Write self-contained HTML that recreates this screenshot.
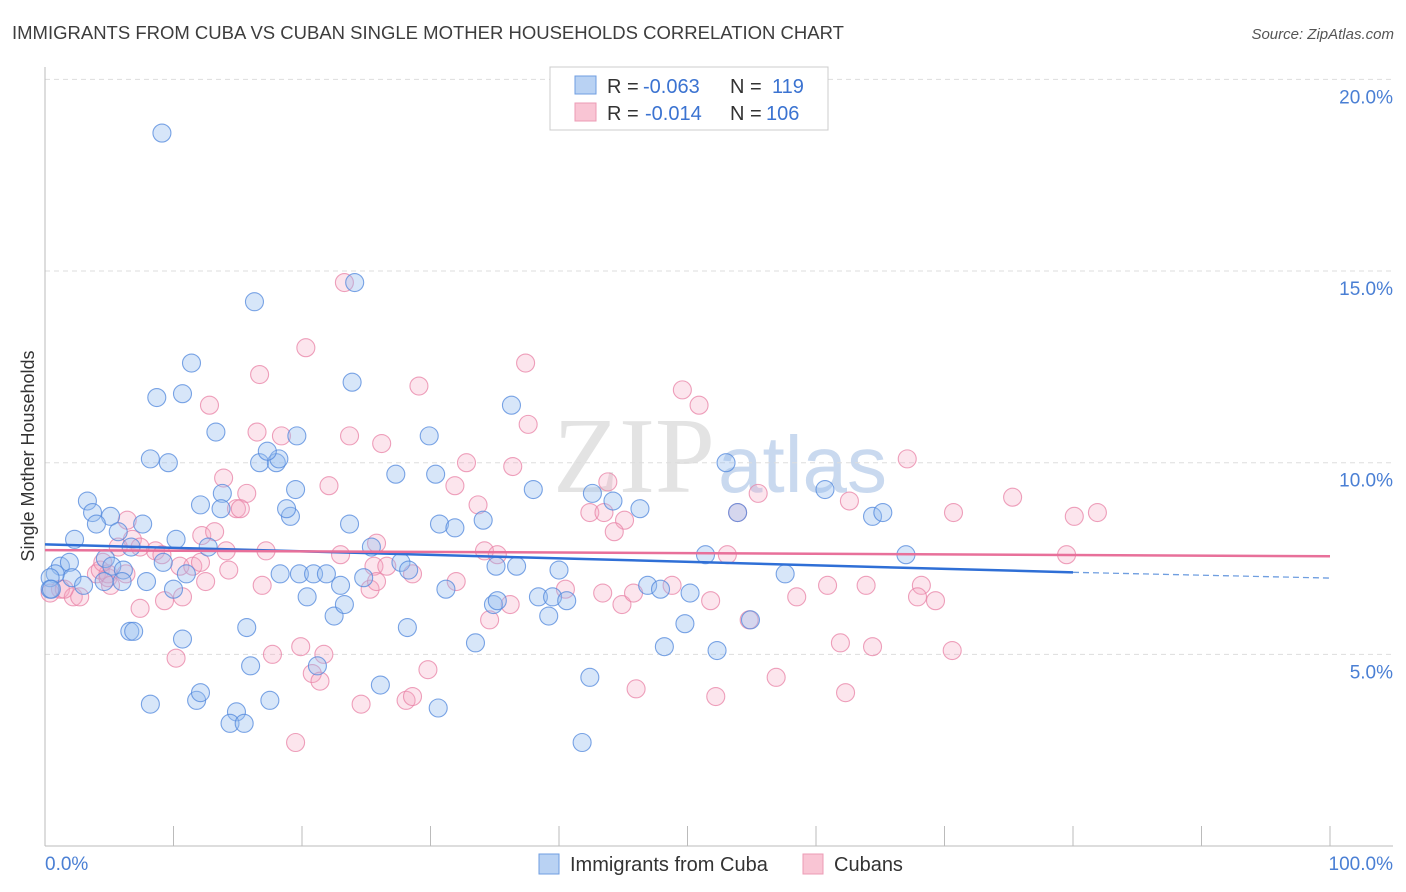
<!DOCTYPE html>
<html><head><meta charset="utf-8"><style>
body{margin:0;background:#fff;font-family:"Liberation Sans",sans-serif;}
svg{display:block}
</style></head><body>
<svg id="chart" width="1406" height="892" xmlns="http://www.w3.org/2000/svg" font-family="Liberation Sans, sans-serif">
<text x="12" y="39" font-size="18.5" fill="#3d3d3d">IMMIGRANTS FROM CUBA VS CUBAN SINGLE MOTHER HOUSEHOLDS CORRELATION CHART</text>
<text x="1394" y="39" font-size="15" fill="#555" font-style="italic" text-anchor="end">Source: ZipAtlas.com</text>
<g>
<text x="553" y="492" font-size="108" font-family="Liberation Serif, serif" fill="#e3e3e3">ZIP</text>
<text x="718" y="492" font-size="80" fill="#c9d9ef">atlas</text>
</g>
<g id="grid"></g>
<g id="axes"></g>
<g id="pts"></g>
<g id="trends"></g>
<text transform="translate(34,456) rotate(-90)" font-size="18" fill="#333" text-anchor="middle">Single Mother Households</text>
<g>
<rect x="550" y="67" width="278" height="63" fill="#fff" stroke="#ccc"/>
<rect x="575" y="76" width="21" height="18" fill="#b9d2f3" stroke="#6f9ee0"/>
<rect x="575" y="103" width="21" height="18" fill="#f9c5d4" stroke="#ec9bb5"/>
<text x="607" y="93" font-size="20" fill="#333">R = <tspan x="643" fill="#3b73d1">-0.063</tspan><tspan x="730" fill="#333">N = </tspan><tspan x="772" fill="#3b73d1">119</tspan></text>
<text x="607" y="120" font-size="20" fill="#333">R = <tspan x="645" fill="#3b73d1">-0.014</tspan><tspan x="730" fill="#333">N = </tspan><tspan x="766" fill="#3b73d1">106</tspan></text>
</g>
<g>
<rect x="539" y="854" width="20" height="20" fill="#b9d2f3" stroke="#6f9ee0"/>
<text x="570" y="871" font-size="20" fill="#333">Immigrants from Cuba</text>
<rect x="803" y="854" width="20" height="20" fill="#f9c5d4" stroke="#ec9bb5"/>
<text x="834" y="871" font-size="20" fill="#333">Cubans</text>
</g>
</svg>
<script>
const yTicks=[5,10,15,20];
const yTickLabels=["5.0%","10.0%","15.0%","20.0%"];
const blueX=[9.1,16.3,24.1,11.4,8.7,10.7,23.9,36.3,13.3,19.6,29.9,8.2,9.6,16.7,18.0,18.2,17.3,27.3,30.4,38.0,53.0,3.3,13.8,19.5,12.1,3.7,5.1,4.0,7.6,13.7,19.1,18.8,23.7,30.7,31.9,34.1,42.6,44.2,46.3,60.7,53.9,64.4,65.2,2.3,5.7,10.2,12.7,6.7,9.2,4.7,5.2,6.1,1.2,1.9,2.1,0.8,0.4,0.4,0.5,3.0,4.6,6.0,7.9,10.0,11.0,18.3,19.8,20.9,21.9,23.0,24.8,25.4,27.7,28.3,31.2,35.1,36.7,40.0,51.4,57.6,67.0,20.4,22.5,23.3,34.9,35.2,38.4,39.5,40.6,39.2,46.9,47.9,50.2,49.8,6.6,6.9,10.7,15.7,28.2,8.2,11.8,12.1,14.9,16.0,17.5,14.4,15.5,21.2,26.1,30.6,33.5,42.4,41.8,48.2,52.3,54.9];
const blueY=[18.6,14.2,14.7,12.6,11.7,11.8,12.1,11.5,10.8,10.7,10.7,10.1,10.0,10.0,10.0,10.1,10.3,9.7,9.7,9.3,10.0,9.0,9.2,9.3,8.9,8.7,8.6,8.4,8.4,8.8,8.6,8.8,8.4,8.4,8.3,8.5,9.2,9.0,8.8,9.3,8.7,8.6,8.7,8.0,8.2,8.0,7.8,7.8,7.4,7.5,7.3,7.2,7.3,7.4,7.0,7.1,7.0,6.7,6.7,6.8,6.9,6.9,6.9,6.7,7.1,7.1,7.1,7.1,7.1,6.8,7.0,7.8,7.4,7.2,6.7,7.3,7.3,7.2,7.6,7.1,7.6,6.5,6.0,6.3,6.3,6.4,6.5,6.5,6.4,6.0,6.8,6.7,6.6,5.8,5.6,5.6,5.4,5.7,5.7,3.7,3.8,4.0,3.5,4.7,3.8,3.2,3.2,4.7,4.2,3.6,5.3,4.4,2.7,5.2,5.1,5.9];
const pinkX=[23.3,20.3,37.4,16.7,29.1,49.6,50.9,12.8,37.6,23.7,26.2,16.5,18.4,13.9,15.7,14.9,15.2,22.1,32.8,36.4,43.8,31.9,33.7,42.4,43.5,45.1,44.3,55.5,62.6,70.7,75.3,80.1,81.9,67.1,53.9,6.4,6.8,8.6,9.1,5.7,7.4,12.2,13.2,14.1,10.5,11.5,12.1,17.2,16.9,23.0,25.8,25.6,26.6,34.2,35.2,28.6,32.0,4.0,4.3,4.9,6.3,4.9,4.5,1.2,0.4,2.2,2.7,1.5,5.1,7.4,9.3,10.7,12.5,14.3,25.3,25.8,34.6,36.2,43.4,40.5,44.9,45.8,48.8,53.1,51.8,58.5,60.9,63.9,68.2,67.9,69.3,54.8,10.2,17.7,19.9,21.7,20.8,21.4,29.8,24.6,28.1,28.6,19.5,46.0,52.2,56.9,61.9,64.4,62.3,70.6,79.5];
const pinkY=[14.7,13.0,12.6,12.3,12.0,11.9,11.5,11.5,11.0,10.7,10.5,10.8,10.7,9.6,9.2,8.8,8.8,9.4,10.0,9.9,9.5,9.4,8.9,8.7,8.7,8.5,8.2,9.2,9.0,8.7,9.1,8.6,8.7,10.1,8.7,8.5,8.0,7.7,7.6,7.8,7.8,8.1,8.2,7.7,7.3,7.3,7.4,7.7,6.8,7.6,7.9,7.3,7.3,7.7,7.6,7.1,6.9,7.1,7.2,7.0,7.1,7.1,7.4,6.7,6.6,6.5,6.5,6.7,6.8,6.2,6.4,6.5,6.9,7.2,6.7,6.9,5.9,6.3,6.6,6.7,6.3,6.6,6.8,7.6,6.4,6.5,6.8,6.8,6.8,6.5,6.4,5.9,4.9,5.0,5.2,5.0,4.5,4.3,4.6,3.7,3.8,3.9,2.7,4.1,3.9,4.4,5.3,5.2,4.0,5.1,7.6];
const blueTrendX=[0,80,100];
const blueTrendY=[7.87,7.14,6.99];
const pinkTrendX=[0,100];
const pinkTrendY=[7.72,7.56];

const NS="http://www.w3.org/2000/svg";
const X0=45,X1=1330,Y0=846,PX=38.33;
const sx=v=>X0+(X1-X0)*v/100;
const sy=v=>Y0-v*PX;
function mk(tag,attrs,parent){const e=document.createElementNS(NS,tag);for(const k in attrs)e.setAttribute(k,attrs[k]);parent.appendChild(e);return e;}
const grid=document.getElementById('grid'),axes=document.getElementById('axes');
yTicks.forEach((t,i)=>{
  const l=mk('line',{x1:X0,x2:1393,y1:sy(t),y2:sy(t),stroke:'#ddd','stroke-dasharray':'5,4'},grid);
  
  
  const tx=mk('text',{x:1393,y:sy(t)+24,'font-size':19,fill:'#4a7fd4','text-anchor':'end'},axes);
  tx.textContent=yTickLabels[i];
  
  
});
mk('line',{x1:X0,x2:X0,y1:67,y2:Y0,stroke:'#bbb'},axes);
mk('line',{x1:X0,x2:1393,y1:Y0,y2:Y0,stroke:'#bbb'},axes);
for(let i=0;i<=10;i++){const tk=mk('line',{x1:sx(i*10),x2:sx(i*10),y1:826,y2:Y0,stroke:'#bbb'},axes);
  
  }
const xl0=mk('text',{x:45,y:870,'font-size':19,fill:'#4a7fd4'},axes);xl0.textContent='0.0%';


const xl1=mk('text',{x:1393,y:870,'font-size':19,fill:'#4a7fd4','text-anchor':'end'},axes);xl1.textContent='100.0%';


const pts=document.getElementById('pts');
pinkX.forEach((x,i)=>{const c=mk('circle',{cx:sx(x),cy:sy(pinkY[i]),r:9,fill:'rgba(246,170,195,0.3)',stroke:'rgba(232,130,165,0.75)','stroke-width':1.1},pts);
  
  });
blueX.forEach((x,i)=>{const c=mk('circle',{cx:sx(x),cy:sy(blueY[i]),r:9,fill:'rgba(150,190,240,0.38)',stroke:'rgba(80,135,220,0.75)','stroke-width':1.1},pts);
  
  });
const tr=document.getElementById('trends');
const b1=mk('line',{x1:sx(blueTrendX[0]),y1:sy(blueTrendY[0]),x2:sx(blueTrendX[1]),y2:sy(blueTrendY[1]),stroke:'#2f6fd6','stroke-width':2.5},tr);


const b2=mk('line',{x1:sx(blueTrendX[1]),y1:sy(blueTrendY[1]),x2:sx(blueTrendX[2]),y2:sy(blueTrendY[2]),stroke:'#6f9ee0','stroke-width':1.3,'stroke-dasharray':'6,4'},tr);


const p1=mk('line',{x1:sx(pinkTrendX[0]),y1:sy(pinkTrendY[0]),x2:sx(pinkTrendX[1]),y2:sy(pinkTrendY[1]),stroke:'#e8709a','stroke-width':2.5},tr);


</script>
</body></html>
